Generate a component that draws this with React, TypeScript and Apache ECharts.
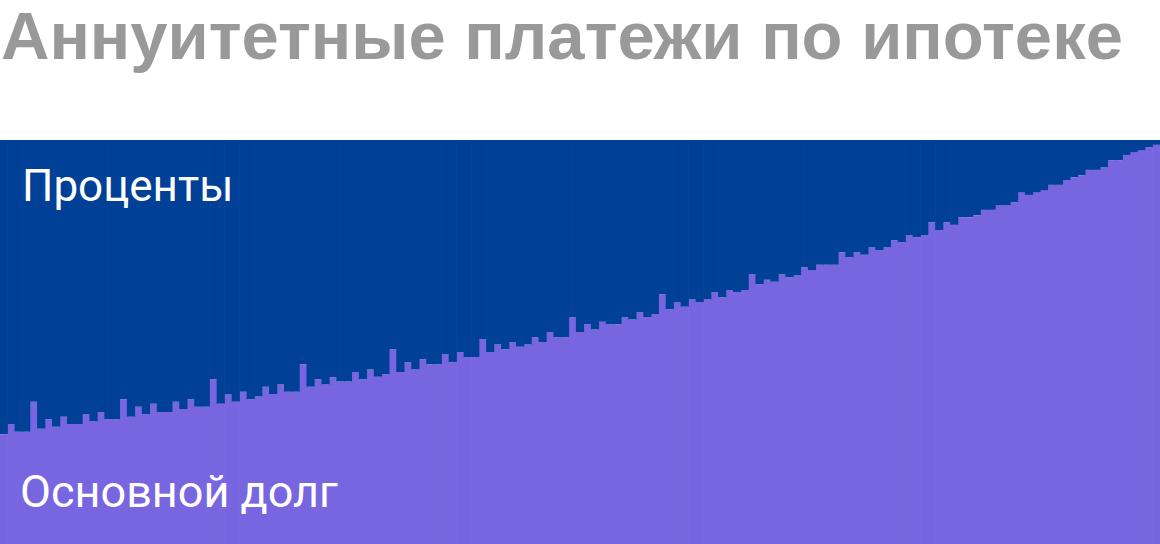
import React, { useEffect, useRef } from 'react';
import * as echarts from 'echarts';

// доля основного долга в платеже, % (по месяцам)
const principalShare = [
  27.2, 29.7, 27.8, 27.8, 35.2, 28.5, 30.9, 29.0, 31.5, 29.7, 29.7, 32.2,
  30.3, 32.7, 30.9, 30.9, 35.8, 31.5, 34.0, 32.2, 34.7, 32.7, 32.7, 35.2,
  33.4, 35.8, 34.0, 34.0, 40.8, 34.7, 37.1, 35.2, 37.7, 35.8, 36.5, 38.9,
  37.1, 39.5, 37.7, 37.7, 44.5, 38.9, 40.8, 39.5, 41.3, 40.2, 40.2, 42.6,
  40.8, 43.2, 41.4, 42.0, 48.2, 42.6, 45.0, 43.2, 45.7, 44.5, 44.5, 47.0,
  45.0, 47.5, 46.3, 46.3, 50.6, 47.5, 49.4, 48.2, 50.0, 48.8, 49.4, 51.2,
  50.0, 52.5, 51.2, 51.2, 56.2, 52.5, 54.4, 53.1, 55.0, 54.4, 54.4, 56.2,
  55.6, 57.4, 56.2, 56.9, 61.8, 58.1, 59.9, 58.7, 60.5, 59.9, 60.5, 62.4,
  61.1, 62.9, 62.4, 62.9, 66.7, 64.3, 65.4, 64.9, 66.7, 66.0, 66.6, 68.5,
  67.8, 69.1, 69.1, 69.1, 72.2, 71.0, 72.2, 71.6, 73.4, 72.8, 73.4, 75.2,
  74.7, 76.5, 75.9, 76.5, 79.6, 77.7, 79.6, 79.0, 80.9, 80.9, 81.4, 82.7,
  82.7, 83.9, 83.9, 84.6, 87.1, 86.4, 87.1, 87.6, 88.9, 88.9, 90.1, 90.8,
  91.3, 92.6, 92.6, 93.2, 95.0, 95.0, 96.3, 97.0, 97.5, 98.2, 98.8,
];

const months = principalShare.map((_, i) => String(i + 1));
const interestShare = principalShare.map((v) => +(100 - v).toFixed(1));

const App = () => {
  const chartRef = useRef(null);

  useEffect(() => {
    const myChart = echarts.init(chartRef.current, null, { renderer: 'svg' });

    const option = {
      animation: false,
      grid: { left: 0, right: 0, top: 140, bottom: 0 },
      xAxis: {
        type: 'category',
        data: months,
        show: false,
      },
      yAxis: {
        type: 'value',
        min: 0,
        max: 100,
        show: false,
      },
      series: [
        {
          name: 'Основной долг',
          type: 'bar',
          stack: 'total',
          data: principalShare,
          barWidth: 8.2,
          itemStyle: { color: '#7866e1' },
        },
        {
          name: 'Проценты',
          type: 'bar',
          stack: 'total',
          data: interestShare,
          barWidth: 8.2,
          itemStyle: { color: '#004096' },
        },
      ],
      graphic: [
        {
          type: 'text',
          left: 1,
          top: 2,
          z: 100,
          style: {
            text: 'Аннуитетные платежи по ипотеке',
            fill: '#999999',
            font: 'bold 67px "Liberation Sans"',
          },
        },
        {
          type: 'text',
          left: 22,
          top: 164,
          z: 100,
          style: {
            text: 'Проценты',
            fill: '#ffffff',
            font: 'normal 44px Roboto',
          },
        },
        {
          type: 'text',
          left: 20,
          top: 469,
          z: 100,
          style: {
            text: 'Основной долг',
            fill: '#ffffff',
            font: 'normal 45px Roboto',
          },
        },
      ],
    };

    myChart.setOption(option);

    return () => {
      myChart.dispose();
    };
  }, []);

  return (
    <div
      ref={chartRef}
      style={{ position: 'absolute', left: 0, top: 0, width: '1160px', height: '544px' }}
    />
  );
};

export default App;
